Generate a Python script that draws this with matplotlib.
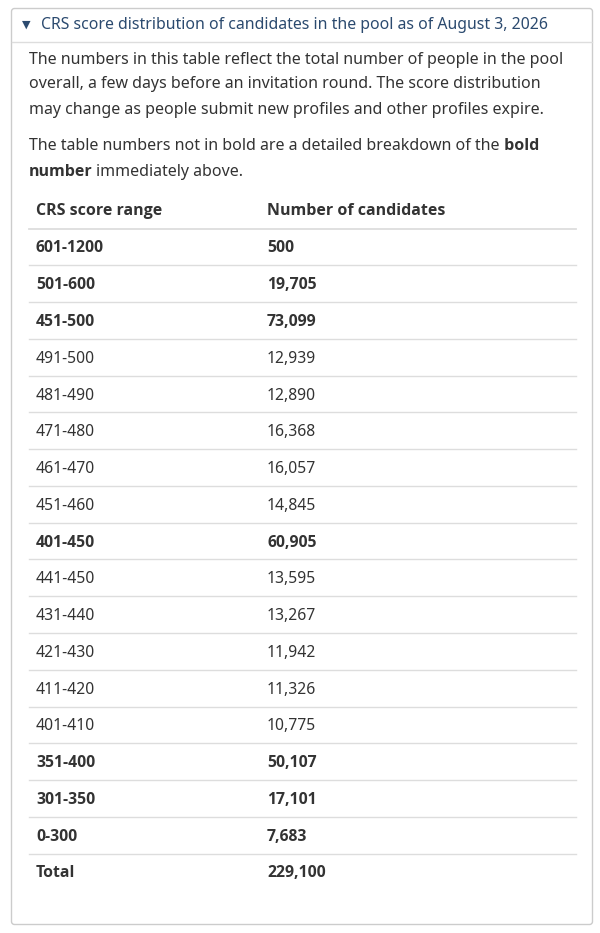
import matplotlib.pyplot as plt
from matplotlib.patches import FancyBboxPatch

# Noto Sans here is a variable font (regular only), so bold text uses Open Sans
plt.rcParams['font.family'] = ['Noto Sans', 'DejaVu Sans']
BOLD_FAMILY = ['Open Sans', 'DejaVu Sans']

title = "CRS score distribution of candidates in the pool as of August 3, 2026"
intro_lines = [
    "The numbers in this table reflect the total number of people in the pool",
    "overall, a few days before an invitation round. The score distribution",
    "may change as people submit new profiles and other profiles expire.",
]
col_headers = ["CRS score range", "Number of candidates"]
score_ranges = ["601-1200", "501-600", "451-500", "491-500", "481-490", "471-480",
                "461-470", "451-460", "401-450", "441-450", "431-440", "421-430",
                "411-420", "401-410", "351-400", "301-350", "0-300", "Total"]
candidates = [500, 19705, 73099, 12939, 12890, 16368, 16057, 14845, 60905,
              13595, 13267, 11942, 11326, 10775, 50107, 17101, 7683, 229100]
is_bold = [True, True, True, False, False, False, False, False, True,
           False, False, False, False, False, True, True, True, True]

text_color = "#333333"
line_color = "#dddddd"
title_color = "#2b4a6f"


def style(bold):
    if bold:
        return dict(family=BOLD_FAMILY, fontweight='bold')
    return dict(family=['Noto Sans', 'DejaVu Sans'], fontweight='normal')


fig = plt.figure(figsize=(6, 9.33), dpi=100)
ax = fig.add_axes([0, 0, 1, 1])
ax.set_xlim(0, 600)
ax.set_ylim(933, 0)
ax.axis('off')

# outer panel and header strip
box = FancyBboxPatch((11.5, 8.5), 581, 916, boxstyle="round,pad=0,rounding_size=3",
                     facecolor="white", edgecolor="#cccccc", linewidth=1)
ax.add_patch(box)
ax.plot([12, 592], [41.5, 41.5], color="#dddddd", linewidth=1)

ax.text(22, 25, "\u25BC", fontsize=8, color=title_color, va='center', ha='left',
        family=['DejaVu Sans'])
ax.text(41, 25, title, fontsize=11.4, color=title_color, va='center', ha='left')

# intro paragraphs
para_size = 11.5
for i, line in enumerate(intro_lines):
    ax.text(29, 59.5 + i * 25, line, fontsize=para_size, color=text_color,
            va='center', ha='left')

t1 = ax.text(29, 145.5, "The table numbers not in bold are a detailed breakdown of the",
             fontsize=para_size, color=text_color, va='center', ha='left')
ax.annotate(" bold", xy=(1, 0), xycoords=t1, va='bottom', ha='left',
            fontsize=para_size, color=text_color, **style(True))
t2 = ax.text(29, 171.5, "number", fontsize=para_size, color=text_color, va='center',
             ha='left', **style(True))
ax.annotate("immediately above.", xy=(1, 0), xycoords=t2, xytext=(2, 0),
            textcoords='offset points', va='bottom', ha='left',
            fontsize=para_size, color=text_color)

# table
cell_size = 11.3
col_x = [36, 267]
header_y = 211
row_y0 = 248.5
row_h = 36.76
for x, h in zip(col_x, col_headers):
    ax.text(x, header_y, h, fontsize=cell_size + 0.2, color=text_color, va='center',
            ha='left', **style(True))
ax.plot([29, 576], [229, 229], color=line_color, linewidth=1.3)

for i, (rng, n, b) in enumerate(zip(score_ranges, candidates, is_bold)):
    y = row_y0 + i * row_h
    ax.text(col_x[0], y, rng, fontsize=cell_size, color=text_color, va='center',
            ha='left', **style(b))
    ax.text(col_x[1], y, f"{n:,}", fontsize=cell_size, color=text_color, va='center',
            ha='left', **style(b))
    if i < len(score_ranges) - 1:
        line_y = y - 1.5 + row_h / 2
        ax.plot([29, 576], [line_y, line_y], color=line_color, linewidth=1)

fig.savefig("out.png", dpi=100)
